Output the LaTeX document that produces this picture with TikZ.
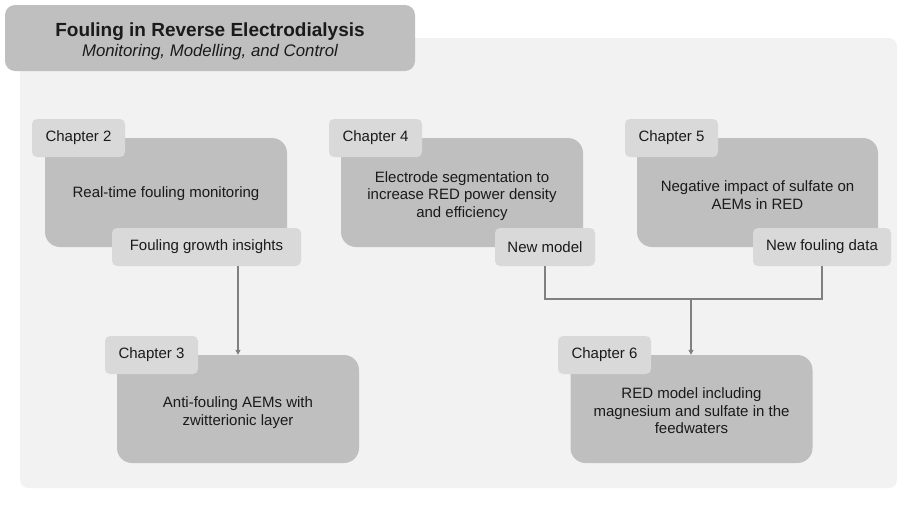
\documentclass[tikz,border=0pt]{standalone}
\usepackage{fontspec}
\setmainfont{Liberation Sans}
\usetikzlibrary{arrows.meta}
\definecolor{panelc}{HTML}{F2F2F2}
\definecolor{mainc}{HTML}{BFBFBF}
\definecolor{labc}{HTML}{D9D9D9}
\definecolor{linec}{HTML}{808080}
\definecolor{txtc}{HTML}{1A1A1A}
\begin{document}
\begin{tikzpicture}[x=1pt,y=-1pt,
  mainbox/.style={fill=mainc, rounded corners=15pt, minimum width=242pt, minimum height=109pt, inner sep=0pt},
  bodytext/.style={inner sep=0pt, align=center, text=txtc, font=\fontsize{15}{17.5}\selectfont},
  labbox/.style={fill=labc, rounded corners=5pt, minimum height=38pt, inner sep=0pt, align=center, text=txtc, font=\fontsize{15}{17.5}\selectfont},
  conn/.style={draw=linec, line width=1.3pt},
  arr/.style={conn, -{Triangle[length=5pt,width=5pt]}}]
\useasboundingbox (0,0) rectangle (898,504);
\fill[panelc, rounded corners=8pt] (20,38) rectangle (897,488);
% title
\node[fill=mainc, rounded corners=10pt, minimum width=410pt, minimum height=66pt, inner sep=0pt] (title) at (210,38) {};
\node[inner sep=0pt, align=center, text=txtc] (titlet) at ([yshift=-3.5pt]title.center)
  {{\fontsize{19}{21}\selectfont\bfseries Fouling in Reverse Electrodialysis}\\[3pt]{\fontsize{16.8}{19}\selectfont\itshape Monitoring, Modelling, and Control}};
% chapter 2
\node[mainbox] (c2) at (166,192.5) {};
\node[bodytext] (c2t) at ([yshift=-1pt]c2.center) {Real-time fouling monitoring};
\node[labbox, minimum width=93pt] (c2l) at (78.5,138) {Chapter 2};
\node[labbox, minimum width=189pt] (c2o) at (206.5,247) {Fouling growth insights};
% chapter 4
\node[mainbox] (c4) at (462,192.5) {};
\node[bodytext] (c4t) at ([yshift=-3.5pt]c4.center) {Electrode segmentation to\\increase RED power density\\and efficiency};
\node[labbox, minimum width=93pt] (c4l) at (375.5,138) {Chapter 4};
\node[labbox, minimum width=100pt] (c4o) at (545,247) {New model};
% chapter 5
\node[mainbox, minimum width=241pt] (c5) at (757.5,192.5) {};
\node[bodytext] (c5t) at ([yshift=-2.5pt]c5.center) {Negative impact of sulfate on\\AEMs in RED};
\node[labbox, minimum width=93pt] (c5l) at (671.5,138) {Chapter 5};
\node[labbox, minimum width=138pt] (c5o) at (822,247) {New fouling data};
% chapter 3
\node[mainbox, minimum height=108pt] (c3) at (238,409) {};
\node[bodytext] (c3t) at ([yshift=-3.5pt]c3.center) {Anti-fouling AEMs with\\zwitterionic layer};
\node[labbox, minimum width=93pt] (c3l) at (151.5,355) {Chapter 3};
% chapter 6
\node[mainbox, minimum height=108pt] (c6) at (691.5,409) {};
\node[bodytext] (c6t) at ([yshift=-2pt]c6.center) {RED model including\\magnesium and sulfate in the\\feedwaters};
\node[labbox, minimum width=93pt] (c6l) at (604.5,355) {Chapter 6};
% connectors
\draw[arr] (c3.north |- c2o.south) -- (c3.north);
\coordinate (join) at (691,299);
\draw[conn] (c4o.south) |- (join) -| (c5o.south);
\draw[arr] (join) -- (join |- c6.north);
\end{tikzpicture}
\end{document}
